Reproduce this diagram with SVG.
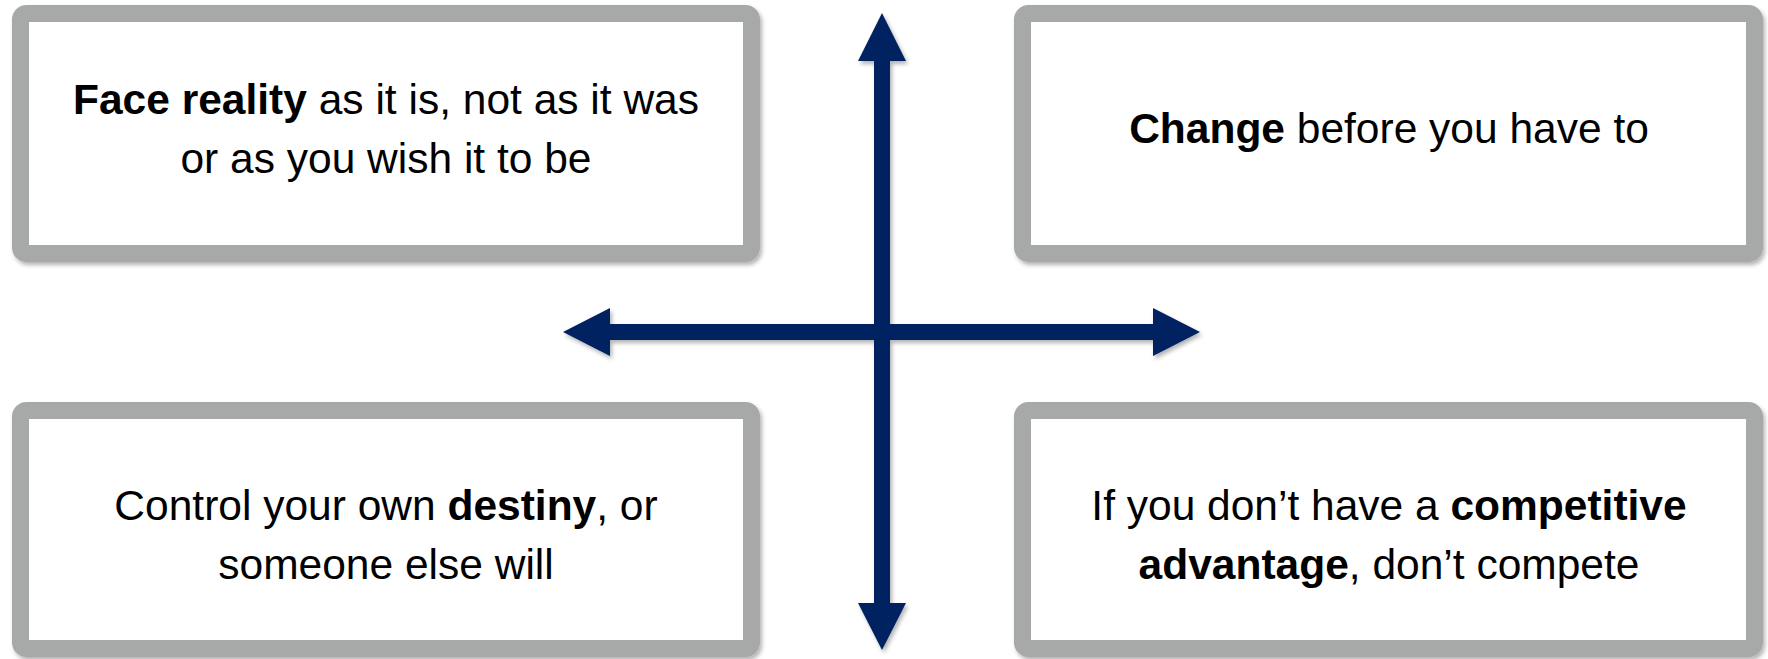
<svg xmlns="http://www.w3.org/2000/svg" width="1768" height="659" viewBox="0 0 1768 659">
  <style>
    .box { fill: #FFFFFF; stroke: #A6A9A7; stroke-width: 17; }
    .lbl { font-family: "Liberation Sans", Arial, sans-serif; font-size: 42.5px; fill: #000000; text-anchor: middle; }
    .b { font-weight: bold; }
    .arrow { fill: #002060; }
  </style>
  <defs>
    <filter id="shadow" x="-5%" y="-5%" width="110%" height="115%">
      <feDropShadow dx="2" dy="3" stdDeviation="2" flood-color="#000000" flood-opacity="0.3"/>
    </filter>
  </defs>
  <rect width="1768" height="659" fill="#FFFFFF"/>
  <g id="node-face-reality">
    <rect class="box" x="20.5" y="13.5" width="731" height="240" rx="6" filter="url(#shadow)"/>
    <text class="lbl" x="386" y="114"><tspan class="b">Face reality</tspan> as it is, not as it was</text>
    <text class="lbl" x="386" y="172.5">or as you wish it to be</text>
  </g>
  <g id="node-change">
    <rect class="box" x="1022.5" y="13.5" width="732" height="240" rx="6" filter="url(#shadow)"/>
    <text class="lbl" x="1389" y="143"><tspan class="b">Change</tspan> before you have to</text>
  </g>
  <g id="node-destiny">
    <rect class="box" x="20.5" y="410.5" width="731" height="238" rx="6" filter="url(#shadow)"/>
    <text class="lbl" x="386" y="520">Control your own <tspan class="b">destiny</tspan>, or</text>
    <text class="lbl" x="386" y="579">someone else will</text>
  </g>
  <g id="node-competitive">
    <rect class="box" x="1022.5" y="410.5" width="732" height="238" rx="6" filter="url(#shadow)"/>
    <text class="lbl" x="1389" y="520">If you don’t have a <tspan class="b">competitive</tspan></text>
    <text class="lbl" x="1389" y="579"><tspan class="b">advantage</tspan>, don’t compete</text>
  </g>
  <g id="connectors" filter="url(#shadow)">
    <polygon class="arrow" points="882,13 906,61 890,61 890,603 906,603 882,650 858,603 874,603 874,61 858,61"/>
    <polygon class="arrow" points="563,332 610,308 610,324 1153,324 1153,308 1200,332 1153,356 1153,340 610,340 610,356"/>
  </g>
</svg>
